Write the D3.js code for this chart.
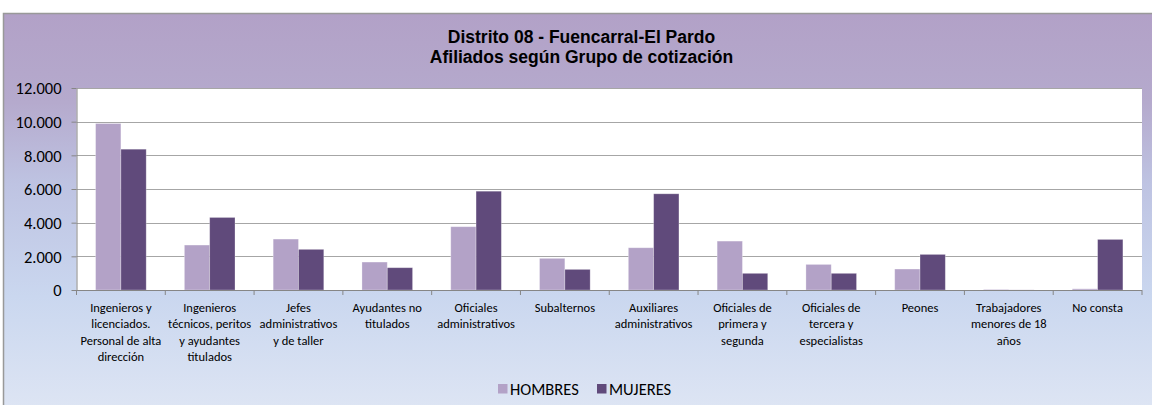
<!DOCTYPE html>
<html>
<head>
<meta charset="utf-8">
<script src="https://cdn.jsdelivr.net/npm/d3@7"></script>
<style>
  body { margin: 0; background: #fff; }
  svg text { font-family: Carlito, Calibri, sans-serif; fill: #000; }
</style>
</head>
<body>
<svg width="1152" height="405"></svg>
<script>
// Data
const categories = [
  ["Ingenieros y", "licenciados.", "Personal de alta", "dirección"],
  ["Ingenieros", "técnicos, peritos", "y ayudantes", "titulados"],
  ["Jefes", "administrativos", "y de taller"],
  ["Ayudantes no", "titulados"],
  ["Oficiales", "administrativos"],
  ["Subalternos"],
  ["Auxiliares", "administrativos"],
  ["Oficiales de", "primera y", "segunda"],
  ["Oficiales de", "tercera y", "especialistas"],
  ["Peones"],
  ["Trabajadores", "menores de 18", "años"],
  ["No consta"]
];
const hombres = [9890, 2670, 3025, 1660, 3760, 1880, 2510, 2905, 1520, 1245, 30, 70];
const mujeres = [8365, 4310, 2415, 1325, 5870, 1225, 5715, 990, 990, 2115, 5, 3005];
const seriesNames = ["HOMBRES", "MUJERES"];
const seriesColors = ["#b3a2c7", "#604a7b"];
const yTicks = [0, 2000, 4000, 6000, 8000, 10000, 12000];

const svg = d3.select("svg");
const W = 1152, H = 405;
const pLeft = 76.5, pRight = 1142, pTop = 88, pBottom = 290;

// background gradient
const defs = svg.append("defs");
const grad = defs.append("linearGradient").attr("id", "bg")
  .attr("x1", 0).attr("y1", 0).attr("x2", 0).attr("y2", 1);
[["0%", "#b2a1c7"], ["22%", "#b5aacd"], ["42%", "#bec3e2"], ["70%", "#cad7ef"], ["100%", "#dfe6f4"]]
  .forEach(s => grad.append("stop").attr("offset", s[0]).attr("stop-color", s[1]));

svg.append("rect")
  .attr("x", 3.5).attr("y", 13.5).attr("width", W + 10).attr("height", H)
  .attr("fill", "url(#bg)").attr("stroke", "#999").attr("stroke-width", 1.5);

// title
const titleLines = ["Distrito 08 - Fuencarral-El Pardo", "Afiliados según Grupo de cotización"];
titleLines.forEach((t, i) => {
  svg.append("text").attr("x", 581.5).attr("y", 43 + i * 19.5)
    .attr("text-anchor", "middle")
    .style("font-family", "'Liberation Sans', Arial, sans-serif")
    .style("font-weight", "bold").style("font-size", "17.5px")
    .text(t);
});

// plot area
svg.append("rect").attr("x", pLeft).attr("y", pTop)
  .attr("width", pRight - pLeft).attr("height", pBottom - pTop).attr("fill", "#fff");

const y = d3.scaleLinear().domain([0, 12000]).range([pBottom, pTop]);
const x0 = d3.scaleBand().domain(d3.range(categories.length))
  .range([pLeft, pRight]).paddingInner(0.43).paddingOuter(0.215);
const x1 = d3.scaleBand().domain([0, 1]).range([0, x0.bandwidth()]);

// gridlines
svg.append("g").selectAll("line").data(yTicks.slice(1)).enter().append("line")
  .attr("x1", pLeft).attr("x2", pRight)
  .attr("y1", d => Math.round(y(d)) + 0.5).attr("y2", d => Math.round(y(d)) + 0.5)
  .attr("stroke", "#a6a6a6");

// bars
const groups = svg.append("g").selectAll("g").data(categories.map((c, i) => i)).enter()
  .append("g").attr("transform", i => `translate(${x0(i)},0)`);
groups.selectAll("rect").data(i => [hombres[i], mujeres[i]]).enter().append("rect")
  .attr("x", (d, j) => x1(j))
  .attr("y", d => y(d))
  .attr("width", x1.bandwidth())
  .attr("height", d => pBottom - y(d))
  .attr("fill", (d, j) => seriesColors[j])
  .attr("stroke", "rgba(255,255,255,0.35)").attr("stroke-width", 0.8);

// y axis
const yAxis = d3.axisLeft(y).tickValues(yTicks).tickSize(5).tickSizeOuter(0)
  .tickFormat(d => d3.format(",")(d).replace(/,/g, "."));
const ya = svg.append("g").attr("transform", `translate(${pLeft},0)`).call(yAxis);
ya.select(".domain").attr("stroke", "#868686");
ya.selectAll(".tick line").attr("stroke", "#868686");
ya.selectAll(".tick text").attr("x", -15).attr("dy", "0.35em")
  .style("font-size", "16.5px");

// x axis
const xa = svg.append("g");
xa.append("line").attr("x1", pLeft).attr("x2", pRight)
  .attr("y1", pBottom + 0.5).attr("y2", pBottom + 0.5).attr("stroke", "#868686");
const step = x0.step();
xa.selectAll(".xt").data(d3.range(categories.length + 1)).enter().append("line")
  .attr("x1", i => pLeft + i * step).attr("x2", i => pLeft + i * step)
  .attr("y1", pBottom).attr("y2", pBottom + 5).attr("stroke", "#868686");
const lbl = xa.selectAll(".lbl").data(categories).enter().append("text")
  .attr("text-anchor", "middle")
  .style("font-size", "12.5px");
lbl.selectAll("tspan").data((d, i) => d.map(t => ({ t, i }))).enter().append("tspan")
  .attr("x", d => x0(d.i) + x0.bandwidth() / 2)
  .attr("y", (d, k) => 312 + k * 16.4)
  .text(d => d.t);

// legend
const lg = svg.append("g");
const lx = [498, 597];
seriesNames.forEach((s, i) => {
  lg.append("rect").attr("x", lx[i]).attr("y", 384).attr("width", 9.5).attr("height", 9.5)
    .attr("fill", seriesColors[i]);
  lg.append("text").attr("x", lx[i] + 12).attr("y", 395).style("font-size", "16.5px").text(s);
});
</script>
</body>
</html>
